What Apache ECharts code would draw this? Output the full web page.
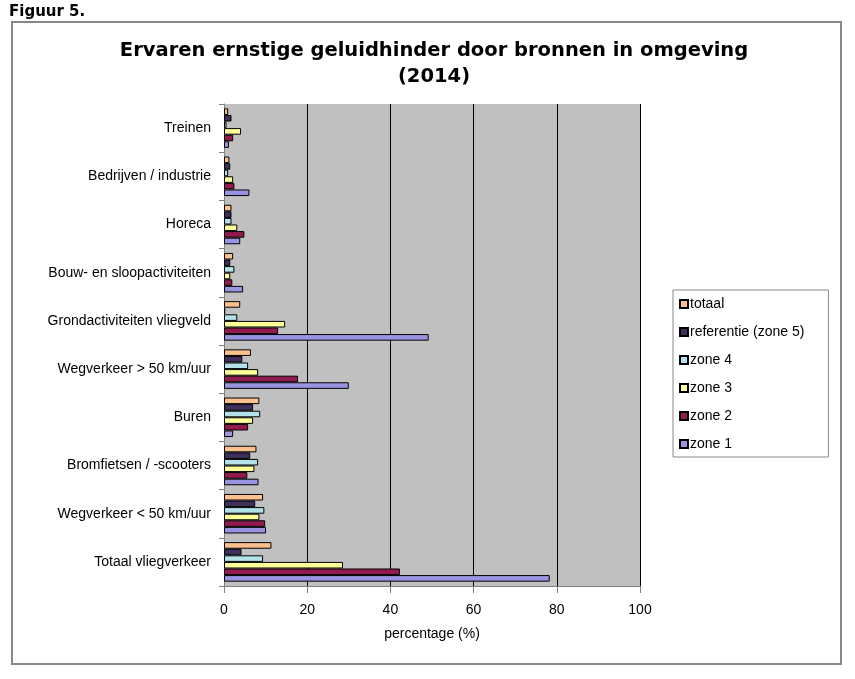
<!DOCTYPE html>
<html>
<head>
<meta charset="utf-8">
<script src="https://cdn.jsdelivr.net/npm/echarts@6/dist/echarts.min.js"></script>
<style>
  html, body { margin: 0; padding: 0; background: #fff; }
  #chart { width: 855px; height: 679px; }
</style>
</head>
<body>
<div id="chart"></div>
<script>
// categories, top to bottom as in the figure
const categories = ['Treinen', 'Bedrijven / industrie', 'Horeca', 'Bouw- en sloopactiviteiten',
  'Grondactiviteiten vliegveld', 'Wegverkeer > 50 km/uur', 'Buren', 'Bromfietsen / -scooters',
  'Wegverkeer < 50 km/uur', 'Totaal vliegverkeer']

const totaal = [1.0, 1.3, 1.8, 2.2, 3.9, 6.5, 8.5, 7.8, 9.4, 11.4]
const referentie = [1.8, 1.5, 1.8, 1.5, 0.3, 4.4, 7.0, 6.3, 7.5, 4.2]
const zone4 = [0.6, 1.0, 1.8, 2.5, 3.2, 5.8, 8.7, 8.2, 9.7, 9.4]
const zone3 = [4.1, 2.2, 3.2, 1.5, 14.7, 8.2, 7.0, 7.3, 8.5, 28.6]
const zone2 = [2.2, 2.5, 4.9, 2.0, 13.0, 17.8, 5.8, 5.6, 9.9, 42.3]
const zone1 = [1.2, 6.1, 3.9, 4.6, 49.2, 30.0, 2.2, 8.3, 10.1, 78.3]

const xTicks = [0, 20, 40, 60, 80, 100]

const seriesDefs = [
  {name: 'totaal', data: totaal, color: '#FCC08E'},
  {name: 'referentie (zone 5)', data: referentie, color: '#3E2F5B'},
  {name: 'zone 4', data: zone4, color: '#B3E2EA'},
  {name: 'zone 3', data: zone3, color: '#FFFF99'},
  {name: 'zone 2', data: zone2, color: '#921A4F'},
  {name: 'zone 1', data: zone1, color: '#9A94E0'}
]

const font = '"Liberation Sans", Arial, sans-serif'

const chart = echarts.init(document.getElementById('chart'), null, {renderer: 'canvas'})

const option = {
  backgroundColor: '#fff',
  animation: false,
  title: [
    {
      text: 'Figuur 5.',
      left: 4,
      top: 0,
      textStyle: {fontFamily: '"DejaVu Sans"', fontWeight: 'bold', fontSize: 15, color: '#000'}
    },
    {
      text: 'Ervaren ernstige geluidhinder door bronnen in omgeving\n(2014)',
      left: 429,
      textAlign: 'center',
      top: 33,
      textStyle: {fontFamily: '"DejaVu Sans"', fontWeight: 'bold', fontSize: 19.5, color: '#000', lineHeight: 26}
    }
  ],
  graphic: [
    {
      type: 'rect',
      shape: {x: 12, y: 22, width: 829, height: 642},
      style: {fill: 'none', stroke: '#888', lineWidth: 2},
      silent: true
    }
  ],
  legend: {
    orient: 'vertical',
    left: 673,
    top: 290,
    data: seriesDefs.map(s => s.name),
    icon: 'rect',
    itemWidth: 8,
    itemHeight: 8,
    itemGap: 14,
    padding: [7, 24, 6, 6],
    borderColor: '#888',
    borderWidth: 1,
    textStyle: {fontFamily: font, fontSize: 14, color: '#000', padding: [0, 0, 0, -3]}
  },
  grid: {
    left: 224,
    top: 104,
    width: 416,
    height: 482,
    show: true,
    backgroundColor: '#C0C0C0',
    borderWidth: 0
  },
  xAxis: {
    type: 'value',
    min: xTicks[0],
    max: xTicks[xTicks.length - 1],
    interval: 20,
    name: 'percentage (%)',
    nameLocation: 'middle',
    nameGap: 41,
    nameTextStyle: {fontFamily: font, fontSize: 14, color: '#000'},
    axisLine: {show: true, lineStyle: {color: '#808080', width: 1}},
    axisTick: {show: true, length: 7, lineStyle: {color: '#808080'}},
    axisLabel: {fontFamily: font, fontSize: 14, color: '#000', margin: 17},
    splitLine: {show: true, lineStyle: {color: '#000', width: 1}}
  },
  yAxis: {
    type: 'category',
    inverse: true,
    data: categories,
    axisLine: {show: true, lineStyle: {color: '#808080', width: 1}},
    axisTick: {show: true, length: 5, lineStyle: {color: '#808080'}},
    axisLabel: {fontFamily: font, fontSize: 14, color: '#000', margin: 13}
  },
  series: seriesDefs.map(s => ({
    name: s.name,
    type: 'bar',
    data: s.data,
    barGap: '0%',
    barCategoryGap: '18%',
    itemStyle: {color: s.color, borderColor: '#000', borderWidth: 1}
  }))
}

chart.setOption(option)
</script>
</body>
</html>
